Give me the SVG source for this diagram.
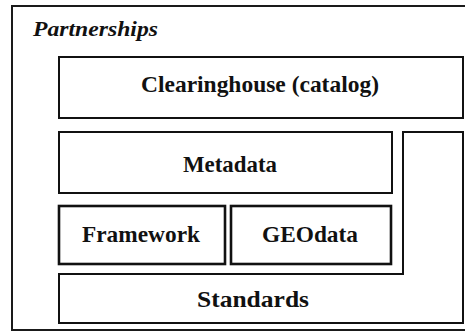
<svg xmlns="http://www.w3.org/2000/svg" width="465" height="333" viewBox="0 0 465 333">
  <style>
    .box { fill: #ffffff; stroke: #111111; stroke-width: 2; }
    .thick { stroke-width: 2.6; }
    .frame { fill: none; stroke: #1a1a1a; stroke-width: 2; }
    .label { font-family: "Liberation Serif", "Times New Roman", serif; font-weight: bold; font-size: 23px; fill: #111111; text-anchor: middle; }
    .title { font-family: "Liberation Serif", "Times New Roman", serif; font-weight: bold; font-style: italic; font-size: 21px; fill: #111111; }
  </style>
  <rect width="465" height="333" fill="#ffffff"/>

  <!-- outer partnerships frame, right side runs past the edge -->
  <g id="partnerships">
    <path class="frame" d="M470,6 H12 V330 H470"/>
    <text class="title" x="33" y="36" textLength="125" lengthAdjust="spacingAndGlyphs">Partnerships</text>
  </g>

  <g id="clearinghouse">
    <rect class="box" x="59" y="57" width="404" height="61"/>
    <text class="label" x="260" y="92" textLength="238" lengthAdjust="spacingAndGlyphs">Clearinghouse (catalog)</text>
  </g>

  <g id="metadata">
    <rect class="box" x="59" y="132" width="333" height="61"/>
    <text class="label" x="230" y="172" textLength="94" lengthAdjust="spacingAndGlyphs">Metadata</text>
  </g>

  <!-- L-shaped standards base wrapping the data boxes -->
  <g id="standards">
    <path class="box" d="M59,274 H403 V132 H463 V323 H59 Z"/>
    <text class="label" x="253" y="307" textLength="112" lengthAdjust="spacingAndGlyphs">Standards</text>
  </g>

  <g id="framework">
    <rect class="box thick" x="59" y="206" width="166" height="58"/>
    <text class="label" x="141" y="242" textLength="118" lengthAdjust="spacingAndGlyphs">Framework</text>
  </g>

  <g id="geodata">
    <rect class="box thick" x="231" y="206" width="160" height="58"/>
    <text class="label" x="310" y="242" textLength="96" lengthAdjust="spacingAndGlyphs">GEOdata</text>
  </g>

  <g id="connectors"/>
</svg>
